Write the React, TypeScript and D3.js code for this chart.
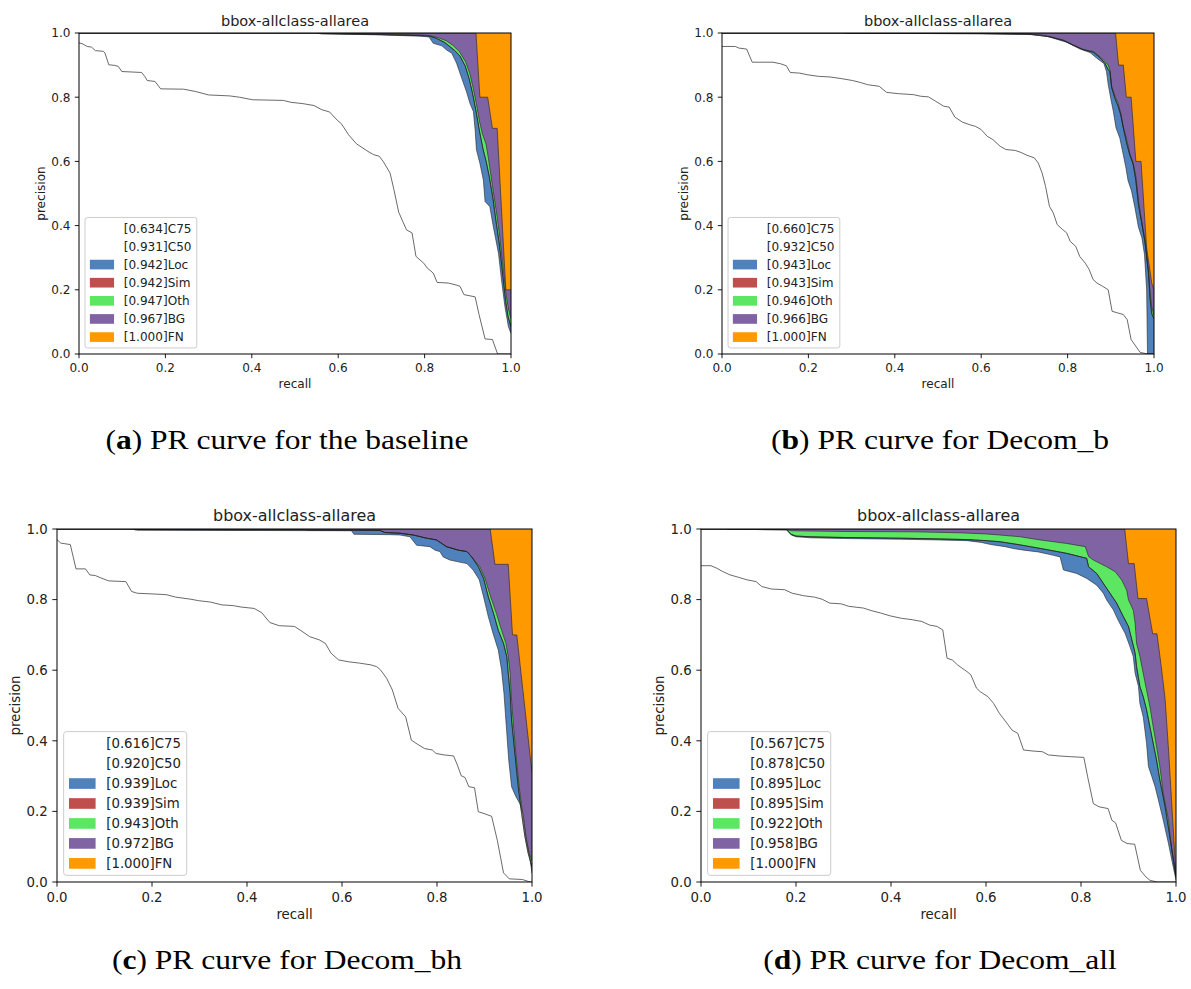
import React from 'react';
import * as d3 from 'd3';

type Pt = [number, number];

const axisTicks = [0, 0.2, 0.4, 0.6, 0.8, 1.0];
const seriesNames = ['C75', 'C50', 'Loc', 'Sim', 'Oth', 'BG', 'FN'];
const seriesColors = ['#ffffff', '#ffffff', '#4f82bd', '#bf4f4d', '#5ce661', '#8063a3', '#ff9900'];
const panelTitle = 'bbox-allclass-allarea';

const apA = [0.634, 0.931, 0.942, 0.942, 0.947, 0.967, 1.0];
const apB = [0.660, 0.932, 0.943, 0.943, 0.946, 0.966, 1.0];
const apC = [0.616, 0.920, 0.939, 0.939, 0.943, 0.972, 1.0];
const apD = [0.567, 0.878, 0.895, 0.895, 0.922, 0.958, 1.0];

const fnCurve: Pt[] = [[0, 1], [1, 1]];

// ---------- panel (a) baseline ----------
const aC75: Pt[] = [[0,0.969],[0.007,0.967],[0.019,0.958],[0.029,0.956],[0.038,0.945],[0.056,0.943],[0.060,0.938],[0.069,0.901],[0.083,0.899],[0.091,0.896],[0.099,0.880],[0.145,0.877],[0.152,0.865],[0.158,0.852],[0.176,0.849],[0.189,0.826],[0.242,0.825],[0.269,0.818],[0.300,0.807],[0.349,0.804],[0.371,0.800],[0.402,0.792],[0.473,0.790],[0.491,0.784],[0.518,0.780],[0.544,0.774],[0.562,0.761],[0.580,0.754],[0.598,0.728],[0.607,0.718],[0.624,0.683],[0.642,0.655],[0.669,0.631],[0.682,0.621],[0.695,0.616],[0.704,0.600],[0.720,0.564],[0.729,0.512],[0.740,0.442],[0.758,0.387],[0.771,0.377],[0.780,0.304],[0.798,0.283],[0.806,0.268],[0.820,0.252],[0.829,0.223],[0.855,0.221],[0.873,0.215],[0.882,0.211],[0.891,0.185],[0.917,0.178],[0.926,0.123],[0.940,0.047],[0.957,0.045],[0.969,0],[1,0]];
const aC50: Pt[] = [[0,1],[0.55,1],[0.56,0.998],[0.70,0.994],[0.79,0.99],[0.809,0.988],[0.8125,0.983],[0.820,0.968],[0.840,0.960],[0.851,0.947],[0.863,0.937],[0.874,0.906],[0.886,0.859],[0.897,0.817],[0.905,0.781],[0.913,0.755],[0.917,0.698],[0.920,0.636],[0.928,0.594],[0.936,0.542],[0.940,0.475],[0.951,0.459],[0.959,0.397],[0.971,0.314],[0.978,0.231],[0.986,0.147],[0.994,0.085],[1.0,0.064]];
const aLoc: Pt[] = [[0,1],[0.55,1],[0.56,0.998],[0.70,0.995],[0.79,0.992],[0.8125,0.99],[0.828,0.983],[0.847,0.970],[0.859,0.957],[0.870,0.945],[0.882,0.928],[0.894,0.897],[0.903,0.858],[0.911,0.812],[0.919,0.757],[0.927,0.695],[0.935,0.640],[0.943,0.597],[0.950,0.550],[0.958,0.487],[0.965,0.417],[0.973,0.342],[0.980,0.258],[0.987,0.172],[0.993,0.118],[1.0,0.085]];
const aSim: Pt[] = aLoc;
const aOth: Pt[] = [[0,1],[0.6,1],[0.62,0.999],[0.70,0.997],[0.79,0.994],[0.81,0.992],[0.83,0.986],[0.85,0.976],[0.865,0.962],[0.88,0.943],[0.895,0.91],[0.905,0.872],[0.913,0.825],[0.92,0.778],[0.927,0.725],[0.934,0.685],[0.942,0.655],[0.947,0.615],[0.952,0.57],[0.959,0.505],[0.967,0.435],[0.974,0.365],[0.981,0.275],[0.988,0.19],[0.994,0.14],[1.0,0.11]];
const aBG: Pt[] = [[0,1],[0.919,1],[0.928,0.80],[0.946,0.80],[0.957,0.703],[0.968,0.703],[0.988,0.20],[1.0,0.20]];

// ---------- panel (b) Decom_b ----------
const bC75: Pt[] = [[0,0.958],[0.031,0.958],[0.039,0.953],[0.057,0.950],[0.070,0.909],[0.118,0.909],[0.136,0.904],[0.149,0.898],[0.158,0.877],[0.180,0.875],[0.197,0.870],[0.223,0.865],[0.250,0.863],[0.276,0.858],[0.302,0.852],[0.320,0.846],[0.337,0.839],[0.364,0.834],[0.381,0.815],[0.408,0.811],[0.443,0.808],[0.460,0.803],[0.478,0.801],[0.495,0.787],[0.513,0.772],[0.526,0.769],[0.539,0.738],[0.557,0.722],[0.574,0.714],[0.587,0.709],[0.600,0.699],[0.614,0.678],[0.627,0.668],[0.644,0.647],[0.657,0.637],[0.679,0.634],[0.692,0.628],[0.706,0.619],[0.723,0.611],[0.732,0.595],[0.741,0.564],[0.749,0.522],[0.758,0.460],[0.767,0.439],[0.776,0.403],[0.789,0.387],[0.798,0.377],[0.806,0.351],[0.819,0.335],[0.828,0.304],[0.841,0.283],[0.850,0.263],[0.859,0.232],[0.868,0.221],[0.881,0.211],[0.894,0.200],[0.903,0.133],[0.916,0.128],[0.929,0.123],[0.938,0.107],[0.947,0.045],[0.968,0.005],[0.986,0],[1,0]];
const bC50: Pt[] = [[0,1],[0.28,1],[0.29,0.999],[0.6,0.998],[0.70,0.996],[0.744,0.993],[0.798,0.971],[0.829,0.950],[0.852,0.939],[0.867,0.922],[0.884,0.905],[0.890,0.880],[0.894,0.840],[0.900,0.795],[0.906,0.755],[0.912,0.705],[0.921,0.672],[0.929,0.620],[0.935,0.580],[0.940,0.540],[0.948,0.508],[0.956,0.455],[0.964,0.395],[0.972,0.362],[0.978,0.31],[0.983,0.2],[0.985,0],[1,0]];
const bLoc: Pt[] = [[0,1],[0.28,1],[0.29,0.999],[0.6,0.998],[0.713,0.996],[0.759,0.988],[0.790,0.977],[0.813,0.962],[0.836,0.948],[0.860,0.940],[0.875,0.923],[0.887,0.905],[0.894,0.886],[0.898,0.880],[0.902,0.830],[0.910,0.795],[0.917,0.772],[0.923,0.745],[0.929,0.704],[0.937,0.655],[0.944,0.620],[0.952,0.590],[0.958,0.540],[0.964,0.465],[0.971,0.412],[0.979,0.350],[0.987,0.255],[0.991,0.170],[0.995,0.125],[1.0,0.11]];
const bSim: Pt[] = bLoc;
const bOth: Pt[] = [[0,1],[0.37,1],[0.5,0.999],[0.65,0.998],[0.713,0.997],[0.759,0.989],[0.790,0.978],[0.813,0.963],[0.836,0.949],[0.860,0.942],[0.875,0.926],[0.887,0.911],[0.894,0.900],[0.898,0.885],[0.902,0.833],[0.910,0.802],[0.917,0.781],[0.923,0.750],[0.929,0.708],[0.937,0.667],[0.944,0.625],[0.952,0.594],[0.958,0.552],[0.964,0.480],[0.971,0.417],[0.979,0.355],[0.987,0.262],[0.991,0.189],[0.995,0.145],[1.0,0.12]];
const bBG: Pt[] = [[0,1],[0.911,1],[0.918,0.90],[0.929,0.90],[0.936,0.80],[0.947,0.80],[0.958,0.60],[0.970,0.60],[0.983,0.33],[0.995,0.22],[1.0,0.2]];

// ---------- panel (c) Decom_bh ----------
const cC75: Pt[] = [[0,0.970],[0.008,0.960],[0.028,0.956],[0.040,0.887],[0.060,0.887],[0.069,0.870],[0.081,0.868],[0.093,0.861],[0.109,0.853],[0.145,0.851],[0.157,0.823],[0.169,0.818],[0.202,0.816],[0.230,0.814],[0.250,0.807],[0.282,0.801],[0.298,0.797],[0.323,0.793],[0.347,0.785],[0.371,0.783],[0.387,0.779],[0.415,0.775],[0.431,0.763],[0.448,0.735],[0.468,0.726],[0.500,0.724],[0.516,0.710],[0.532,0.695],[0.552,0.686],[0.565,0.676],[0.577,0.648],[0.593,0.629],[0.613,0.624],[0.637,0.620],[0.661,0.615],[0.673,0.610],[0.681,0.601],[0.694,0.577],[0.706,0.544],[0.718,0.492],[0.734,0.468],[0.746,0.402],[0.758,0.391],[0.774,0.378],[0.790,0.374],[0.798,0.364],[0.815,0.360],[0.835,0.357],[0.843,0.331],[0.851,0.301],[0.859,0.296],[0.867,0.270],[0.879,0.267],[0.887,0.199],[0.899,0.194],[0.915,0.186],[0.927,0.118],[0.940,0.026],[0.952,0.009],[0.980,0.007],[0.996,0],[1,0]];
const cC50: Pt[] = [[0,1],[0.16,1],[0.165,0.997],[0.35,0.996],[0.62,0.995],[0.625,0.985],[0.70,0.984],[0.722,0.983],[0.743,0.978],[0.757,0.954],[0.785,0.950],[0.796,0.940],[0.806,0.936],[0.813,0.921],[0.827,0.912],[0.863,0.902],[0.876,0.884],[0.889,0.856],[0.898,0.808],[0.908,0.752],[0.918,0.704],[0.929,0.657],[0.936,0.600],[0.941,0.534],[0.946,0.440],[0.951,0.346],[0.957,0.270],[0.966,0.242],[0.974,0.223],[0.981,0.195],[0.988,0.119],[0.995,0.072],[1.0,0.025]];
const cLoc: Pt[] = [[0,1],[0.16,1],[0.17,0.998],[0.52,0.998],[0.53,0.997],[0.68,0.996],[0.69,0.99],[0.722,0.988],[0.750,0.983],[0.778,0.974],[0.799,0.969],[0.810,0.959],[0.820,0.950],[0.845,0.940],[0.863,0.936],[0.873,0.921],[0.887,0.893],[0.898,0.860],[0.908,0.808],[0.919,0.761],[0.929,0.713],[0.940,0.676],[0.947,0.638],[0.950,0.591],[0.954,0.534],[0.957,0.459],[0.964,0.364],[0.971,0.270],[0.978,0.195],[0.985,0.129],[0.992,0.081],[1.0,0.043]];
const cSim: Pt[] = cLoc;
const cOth: Pt[] = [[0,1],[0.16,1],[0.17,0.998],[0.52,0.998],[0.53,0.997],[0.68,0.996],[0.69,0.99],[0.722,0.988],[0.750,0.983],[0.778,0.974],[0.799,0.969],[0.810,0.959],[0.820,0.950],[0.845,0.940],[0.863,0.936],[0.873,0.921],[0.890,0.893],[0.901,0.860],[0.913,0.808],[0.925,0.761],[0.936,0.713],[0.945,0.676],[0.950,0.638],[0.954,0.591],[0.956,0.534],[0.960,0.459],[0.966,0.364],[0.973,0.270],[0.980,0.195],[0.987,0.129],[0.994,0.081],[1.0,0.06]];
const cBG: Pt[] = [[0,1],[0.912,1],[0.922,0.90],[0.950,0.90],[0.959,0.70],[0.968,0.70],[1.0,0.31]];

// ---------- panel (d) Decom_all ----------
const dC75: Pt[] = [[0,0.896],[0.021,0.896],[0.033,0.889],[0.045,0.880],[0.061,0.870],[0.077,0.864],[0.097,0.856],[0.116,0.851],[0.128,0.837],[0.148,0.830],[0.176,0.828],[0.192,0.818],[0.216,0.811],[0.239,0.807],[0.255,0.801],[0.271,0.790],[0.295,0.788],[0.311,0.781],[0.342,0.776],[0.358,0.769],[0.378,0.762],[0.398,0.754],[0.422,0.747],[0.445,0.743],[0.465,0.738],[0.481,0.728],[0.497,0.724],[0.509,0.714],[0.518,0.634],[0.529,0.629],[0.540,0.615],[0.560,0.596],[0.568,0.587],[0.580,0.549],[0.588,0.539],[0.604,0.525],[0.616,0.506],[0.628,0.478],[0.639,0.459],[0.655,0.430],[0.667,0.421],[0.679,0.374],[0.699,0.371],[0.719,0.369],[0.731,0.360],[0.754,0.357],[0.778,0.355],[0.806,0.353],[0.814,0.298],[0.826,0.222],[0.838,0.213],[0.857,0.208],[0.865,0.175],[0.873,0.167],[0.885,0.118],[0.897,0.109],[0.913,0.107],[0.925,0.033],[0.937,0.014],[0.945,0.005],[0.960,0],[1,0]];
const dC50: Pt[] = [[0,1],[0.05,1],[0.06,0.999],[0.18,0.998],[0.19,0.983],[0.2,0.978],[0.23,0.975],[0.30,0.973],[0.42,0.971],[0.5,0.969],[0.56,0.967],[0.59,0.962],[0.61,0.956],[0.64,0.950],[0.66,0.944],[0.68,0.940],[0.71,0.935],[0.74,0.926],[0.756,0.921],[0.763,0.884],[0.791,0.874],[0.812,0.860],[0.833,0.841],[0.847,0.818],[0.854,0.799],[0.868,0.771],[0.878,0.742],[0.893,0.704],[0.903,0.667],[0.910,0.639],[0.914,0.591],[0.921,0.554],[0.924,0.506],[0.931,0.468],[0.938,0.393],[0.942,0.327],[0.949,0.299],[0.956,0.270],[0.963,0.232],[0.973,0.176],[0.984,0.110],[0.994,0.044],[1.0,0.006]];
const dLoc: Pt[] = [[0,1],[0.05,1],[0.06,0.999],[0.18,0.998],[0.19,0.985],[0.2,0.980],[0.23,0.978],[0.30,0.976],[0.42,0.974],[0.5,0.972],[0.56,0.970],[0.6,0.967],[0.629,0.964],[0.672,0.955],[0.714,0.945],[0.770,0.931],[0.812,0.917],[0.816,0.893],[0.833,0.874],[0.847,0.846],[0.861,0.818],[0.875,0.790],[0.889,0.752],[0.900,0.724],[0.907,0.686],[0.914,0.648],[0.917,0.610],[0.924,0.554],[0.931,0.525],[0.938,0.488],[0.945,0.440],[0.952,0.393],[0.959,0.346],[0.966,0.289],[0.977,0.214],[0.987,0.129],[1.0,0.015]];
const dSim: Pt[] = dLoc;
const dOth: Pt[] = [[0,1],[0.05,1],[0.06,0.999],[0.18,0.998],[0.19,0.995],[0.30,0.993],[0.45,0.992],[0.55,0.989],[0.6,0.986],[0.629,0.983],[0.672,0.978],[0.714,0.969],[0.770,0.959],[0.809,0.950],[0.816,0.922],[0.826,0.912],[0.854,0.893],[0.872,0.879],[0.886,0.855],[0.896,0.827],[0.900,0.799],[0.910,0.770],[0.914,0.733],[0.917,0.676],[0.924,0.639],[0.931,0.591],[0.938,0.544],[0.945,0.497],[0.952,0.440],[0.959,0.384],[0.966,0.327],[0.973,0.252],[0.984,0.176],[0.991,0.091],[1.0,0.015]];
const dBG: Pt[] = [[0,1],[0.892,1],[0.900,0.902],[0.912,0.902],[0.920,0.803],[0.938,0.803],[0.951,0.703],[0.960,0.703],[0.969,0.61],[0.977,0.52],[0.985,0.36],[0.992,0.2],[1.0,0.02]];

const captionLetters = ['a', 'b', 'c', 'd'];
const captionTexts = ['PR curve for the baseline', 'PR curve for Decom_b', 'PR curve for Decom_bh', 'PR curve for Decom_all'];

interface PanelCfg {
  id: string;
  left: number; top: number; width: number; height: number; s: number;
  ap: number[]; curves: Pt[][];
  capX: number; capY: number; letter: string; caption: string;
}

const panels: PanelCfg[] = [
  { id: 'a', left: 79, top: 33, width: 432, height: 321, s: 0.87, ap: apA, curves: [aC75, aC50, aLoc, aSim, aOth, aBG, fnCurve], capX: 287, capY: 449, letter: captionLetters[0], caption: captionTexts[0] },
  { id: 'b', left: 722, top: 33, width: 432, height: 321, s: 0.87, ap: apB, curves: [bC75, bC50, bLoc, bSim, bOth, bBG, fnCurve], capX: 940, capY: 449, letter: captionLetters[1], caption: captionTexts[1] },
  { id: 'c', left: 57, top: 529, width: 475, height: 353, s: 0.958, ap: apC, curves: [cC75, cC50, cLoc, cSim, cOth, cBG, fnCurve], capX: 287, capY: 969, letter: captionLetters[2], caption: captionTexts[2] },
  { id: 'd', left: 701, top: 529, width: 475, height: 353, s: 0.958, ap: apD, curves: [dC75, dC50, dLoc, dSim, dOth, dBG, fnCurve], capX: 940, capY: 969, letter: captionLetters[3], caption: captionTexts[3] },
];

const SANS = "'DejaVu Sans', sans-serif";
const SERIF = "'Liberation Serif', 'Times New Roman', serif";

function Panel({ p }: { p: PanelCfg }) {
  const x = d3.scaleLinear().domain([0, 1]).range([p.left, p.left + p.width]);
  const y = d3.scaleLinear().domain([0, 1]).range([p.top + p.height, p.top]);
  const area = d3.area<Pt>().x(d => x(d[0])).y0(y(0)).y1(d => y(d[1]));
  const line = d3.line<Pt>().x(d => x(d[0])).y(d => y(d[1]));
  const u = 1.389 * p.s; // px per point
  const fs = 10 * u;
  const tickLen = 3.5 * u;
  const pad = 3.5 * u;
  const bottom = p.top + p.height;
  const clipId = `clip-${p.id}`;

  const legLeft = p.left + 0.5 * fs;
  const legH = 10.8 * fs;
  const legW = 9.25 * fs;
  const legTop = bottom - 0.5 * fs - legH;

  const order = [6, 5, 4, 3, 2, 1, 0];
  return (
    <g>
      <defs>
        <clipPath id={clipId}>
          <rect x={p.left} y={p.top} width={p.width} height={p.height} />
        </clipPath>
      </defs>
      <g clipPath={`url(#${clipId})`}>
        {order.map(k => (
          <path key={`f${k}`} d={area(p.curves[k]) || ''} fill={seriesColors[k]} stroke="none" />
        ))}
        {[0, 1, 2, 3, 4, 5].map(k => (
          <path key={`l${k}`} d={line(p.curves[k]) || ''} fill="none" stroke={k === 0 ? '#444' : '#222'} strokeWidth={k === 0 ? 0.8 : 0.6} />
        ))}
      </g>
      <rect x={p.left} y={p.top} width={p.width} height={p.height} fill="none" stroke="#000" strokeWidth={1} />
      {axisTicks.map(t => (
        <g key={`xt${t}`}>
          <line x1={x(t)} x2={x(t)} y1={bottom} y2={bottom + tickLen} stroke="#000" strokeWidth={0.9} />
          <text x={x(t)} y={bottom + tickLen + pad + 0.78 * fs} fontSize={fs} fontFamily={SANS} textAnchor="middle" fill="#222">{t.toFixed(1)}</text>
        </g>
      ))}
      {axisTicks.map(t => (
        <g key={`yt${t}`}>
          <line x1={p.left - tickLen} x2={p.left} y1={y(t)} y2={y(t)} stroke="#000" strokeWidth={0.9} />
          <text x={p.left - tickLen - pad} y={y(t) + 0.36 * fs} fontSize={fs} fontFamily={SANS} textAnchor="end" fill="#222">{t.toFixed(1)}</text>
        </g>
      ))}
      <text x={p.left + p.width / 2} y={p.top - 6 * u} fontSize={12 * u} fontFamily={SANS} textAnchor="middle" fill="#222">{panelTitle}</text>
      <text x={p.left + p.width / 2} y={bottom + 39.1 * p.s} fontSize={fs} fontFamily={SANS} textAnchor="middle" fill="#222">recall</text>
      <text transform={`translate(${p.left - 44 * p.s + 0.36 * fs},${p.top + p.height / 2}) rotate(-90)`} fontSize={fs} fontFamily={SANS} textAnchor="middle" fill="#222">precision</text>
      <g>
        <rect x={legLeft} y={legTop} width={legW} height={legH} rx={0.2 * fs} ry={0.2 * fs} fill="#ffffff" fillOpacity={0.8} stroke="#cccccc" strokeWidth={1} />
        {seriesNames.map((name, k) => {
          const cy = legTop + 0.4 * fs + 0.5 * fs + k * 1.5 * fs;
          return (
            <g key={`lg${k}`}>
              <rect x={legLeft + 0.4 * fs} y={cy - 0.4 * fs} width={2 * fs} height={0.8 * fs} fill={seriesColors[k]} />
              <text x={legLeft + 0.4 * fs + 2 * fs + 0.8 * fs} y={cy + 0.36 * fs} fontSize={fs} fontFamily={SANS} fill="#222">{`[${p.ap[k].toFixed(3)}]${name}`}</text>
            </g>
          );
        })}
      </g>
      <g transform={`translate(${p.capX},${p.capY}) scale(1.19,1)`}>
        <text x={0} y={0} fontSize={26.5} fontFamily={SERIF} textAnchor="middle" fill="#000">
          (<tspan fontWeight="bold">{p.letter}</tspan>) {p.caption}
        </text>
      </g>
    </g>
  );
}

export default function App() {
  return (
    <svg width={1191} height={989} viewBox="0 0 1191 989" style={{ position: 'absolute', left: 0, top: 0, background: '#fff' }}>
      <rect x={0} y={0} width={1191} height={989} fill="#fff" />
      {panels.map(p => <Panel key={p.id} p={p} />)}
    </svg>
  );
}
